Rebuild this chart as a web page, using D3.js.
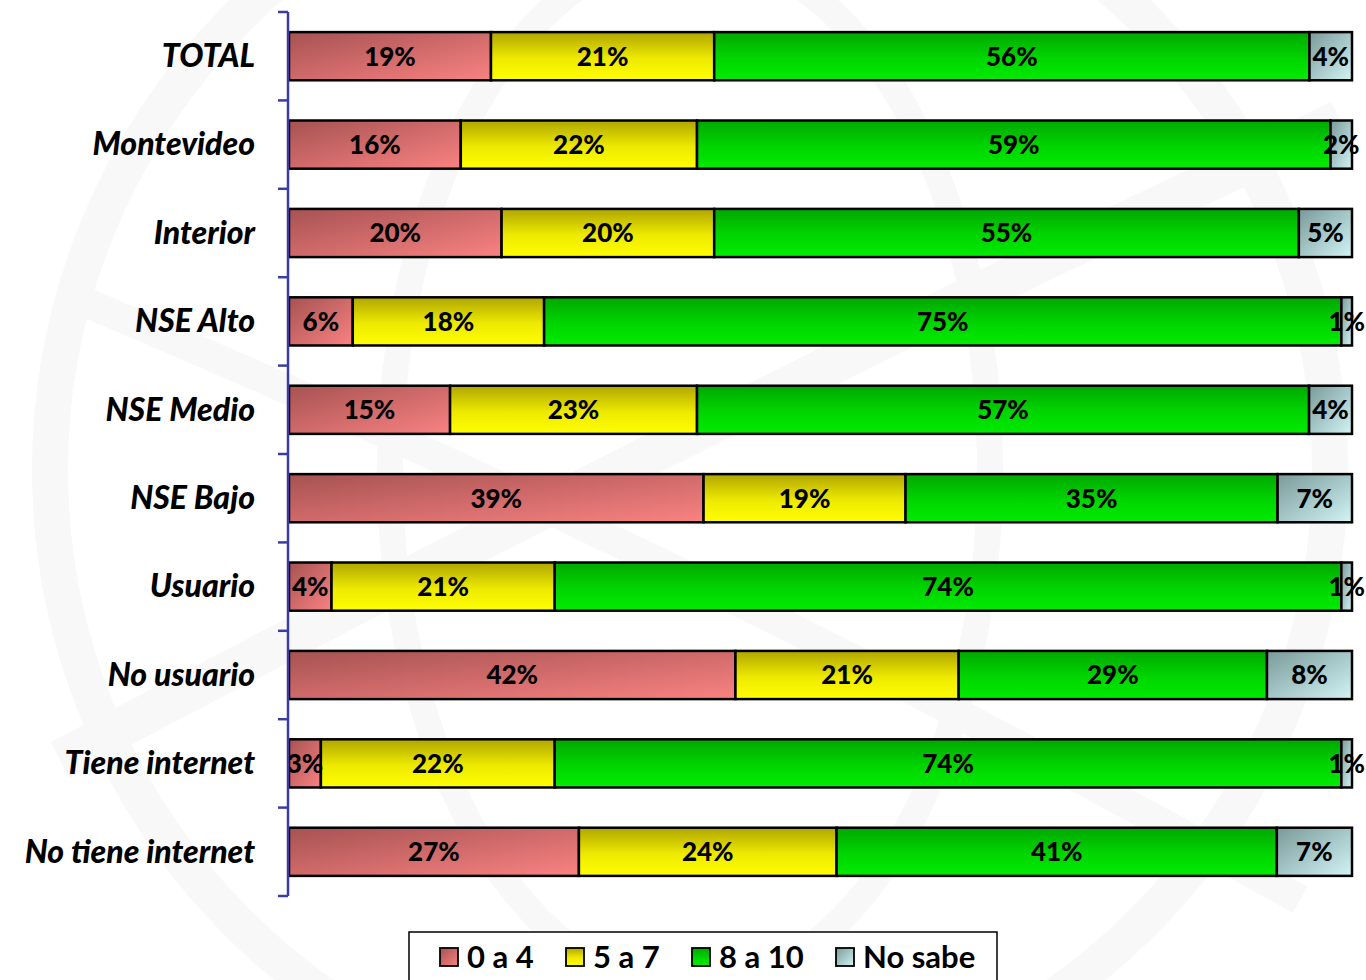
<!DOCTYPE html>
<html>
<head>
<meta charset="utf-8">
<script src="https://cdn.jsdelivr.net/npm/d3@7"></script>
<style>
  html, body { margin: 0; padding: 0; background: #ffffff; }
  svg { display: block; }
</style>
</head>
<body>
<svg id="chart" width="1366" height="980"></svg>
<script>
// Satisfaction scores by segment (percent of respondents)
const categories = ["TOTAL", "Montevideo", "Interior", "NSE Alto", "NSE Medio", "NSE Bajo",
                    "Usuario", "No usuario", "Tiene internet", "No tiene internet"];
const seriesNames = ["0 a 4", "5 a 7", "8 a 10", "No sabe"];
const s0a4   = [19, 16, 20, 6, 15, 39, 4, 42, 3, 27];
const s5a7   = [21, 22, 20, 18, 23, 19, 21, 21, 22, 24];
const s8a10  = [56, 59, 55, 75, 57, 35, 74, 29, 74, 41];
const sNoSabe = [4, 2, 5, 1, 4, 7, 1, 8, 1, 7];

const seriesValues = [s0a4, s5a7, s8a10, sNoSabe];
const rows = categories.map((c, i) => {
  const r = { cat: c };
  seriesNames.forEach((s, k) => r[s] = seriesValues[k][i]);
  return r;
});

const svg = d3.select("#chart");
const plot = { left: 289, right: 1352, top: 12, bottom: 896 };
const FONT = "Lato, 'Open Sans', sans-serif";

// faint background watermark
const wm = svg.append("g").attr("fill", "none").attr("stroke", "#f8f8f8");
wm.append("circle").attr("cx", 690).attr("cy", 470).attr("r", 640).attr("stroke-width", 36);
wm.append("ellipse").attr("cx", 690).attr("cy", 470).attr("rx", 300).attr("ry", 520).attr("stroke-width", 26);
wm.append("path").attr("d", "M60,760 Q700,420 1340,120").attr("stroke-width", 40);
wm.append("path").attr("d", "M80,300 Q700,560 1300,900").attr("stroke-width", 30);

const defs = svg.append("defs");
function grad(id, x1, y1, x2, y2, stops) {
  const g = defs.append("linearGradient").attr("id", id)
    .attr("x1", x1).attr("y1", y1).attr("x2", x2).attr("y2", y2);
  stops.forEach(([o, c]) => g.append("stop").attr("offset", o).attr("stop-color", c));
}
grad("g0", "0", "0", "1", "1", [["0%", "#a65252"], ["100%", "#fa8282"]]);
grad("g1", "0", "0", "0", "1", [["0%", "#b0a600"], ["55%", "#eeea00"], ["100%", "#ffff00"]]);
grad("g2", "0", "0", "0", "1", [["0%", "#00a800"], ["55%", "#00d600"], ["100%", "#00ec00"]]);
grad("g3", "0", "0", "1", "1", [["0%", "#7a9a9a"], ["100%", "#d2f4f4"]]);
const fills = ["url(#g0)", "url(#g1)", "url(#g2)", "url(#g3)"];

const x = d3.scaleLinear().domain([0, 1]).range([plot.left, plot.right]);
const y = d3.scaleBand().domain(categories).range([plot.top, plot.bottom])
  .paddingInner(0.455).paddingOuter(0.2275);

const stack = d3.stack().keys(seriesNames).offset(d3.stackOffsetExpand);
const layers = stack(rows);

const gBars = svg.append("g");
layers.forEach((layer, k) => {
  gBars.append("g").selectAll("rect").data(layer).join("rect")
    .attr("x", d => x(d[0]))
    .attr("y", d => y(d.data.cat))
    .attr("width", d => x(d[1]) - x(d[0]))
    .attr("height", y.bandwidth())
    .attr("fill", fills[k])
    .attr("stroke", "#000")
    .attr("stroke-width", 2.5);
});
layers.forEach((layer, k) => {
  gBars.append("g").selectAll("text").data(layer).join("text")
    .attr("x", d => (x(d[0]) + x(d[1])) / 2)
    .attr("y", d => y(d.data.cat) + y.bandwidth() / 2)
    .attr("dy", "0.36em")
    .attr("text-anchor", "middle")
    .attr("font-family", FONT)
    .attr("font-weight", 900)
    .attr("font-size", 26)
    .attr("fill", "#000")
    .text(d => d.data[seriesNames[k]] + "%");
});

// category axis with ticks on band boundaries
const axisG = svg.append("g");
axisG.append("line")
  .attr("x1", plot.left - 1).attr("x2", plot.left - 1)
  .attr("y1", plot.top).attr("y2", plot.bottom)
  .attr("stroke", "#3c3ca6").attr("stroke-width", 2.5);
const tickYs = d3.range(categories.length + 1).map(i => plot.top + i * (plot.bottom - plot.top) / categories.length);
axisG.selectAll("line.tick").data(tickYs).join("line").attr("class", "tick")
  .attr("x1", plot.left - 11).attr("x2", plot.left - 1)
  .attr("y1", d => d).attr("y2", d => d)
  .attr("stroke", "#3c3ca6").attr("stroke-width", 2.5);
axisG.selectAll("text").data(categories).join("text")
  .attr("x", 255)
  .attr("y", d => y(d) + y.bandwidth() / 2)
  .attr("dy", "0.34em")
  .attr("text-anchor", "end")
  .attr("font-family", FONT)
  .attr("font-weight", 900)
  .attr("font-style", "italic")
  .attr("font-size", 32)
  .attr("fill", "#000")
  .text(d => d);

// legend
const lg = svg.append("g");
lg.append("rect").attr("x", 409).attr("y", 932).attr("width", 588).attr("height", 60)
  .attr("fill", "#fff").attr("stroke", "#000").attr("stroke-width", 1.5);
const legX = [440, 566, 692, 836];
seriesNames.forEach((s, k) => {
  lg.append("rect").attr("x", legX[k]).attr("y", 948).attr("width", 18).attr("height", 18)
    .attr("fill", fills[k]).attr("stroke", "#000").attr("stroke-width", 1.8);
  lg.append("text").attr("x", legX[k] + 27).attr("y", 957).attr("dy", "0.36em")
    .attr("font-family", FONT)
    .attr("font-weight", 700).attr("font-size", 31).attr("fill", "#000")
    .text(s);
});
</script>
</body>
</html>
